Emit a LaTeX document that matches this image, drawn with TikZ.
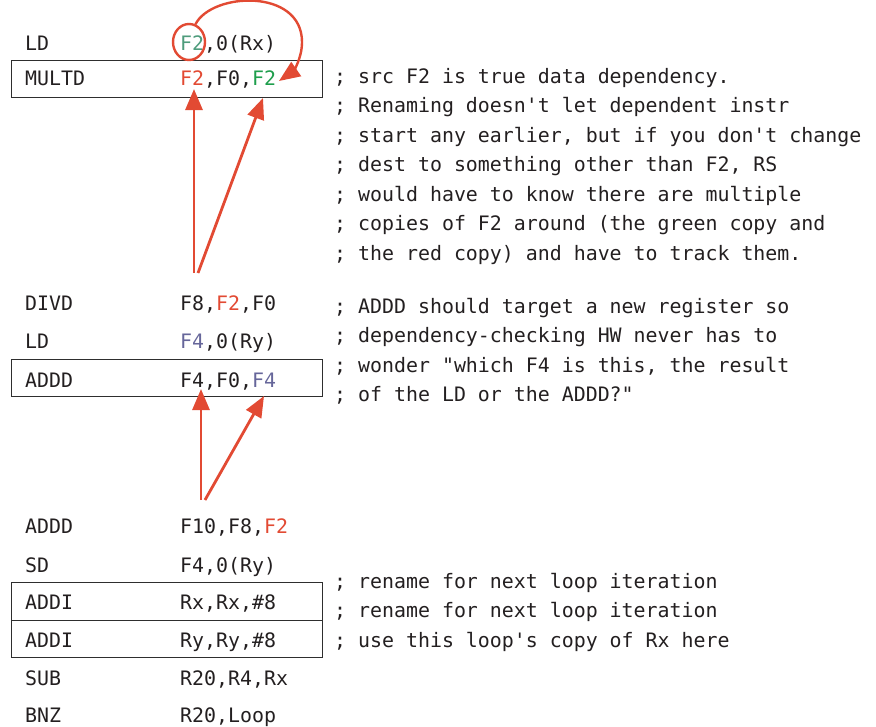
\documentclass[tikz,border=0pt]{standalone}
\usepackage{fontspec}
\setmainfont{DejaVu Sans Mono}[Ligatures=TeXOff]
\usetikzlibrary{arrows.meta,shapes.geometric}

\definecolor{ink}{HTML}{231F20}
\definecolor{boxline}{HTML}{2E2E2E}
\definecolor{depred}{HTML}{E24A33}
\definecolor{srcgreen}{HTML}{4E9C7C}
\definecolor{dstgreen}{HTML}{1E9E4C}
\definecolor{regviolet}{HTML}{66669A}

\tikzset{
  code/.style={anchor=base west, inner sep=0pt, text=ink,
               font=\fontsize{19.9}{24}\selectfont},
  instrbox/.style={draw=boxline, line width=1.2pt, anchor=north west,
                   minimum width=310.5pt, minimum height=37.5pt, inner sep=0pt},
  dep/.style={draw=depred, line width=2.8pt,
              -{Triangle[length=21pt,width=17pt]}},
  regmark/.style={draw=depred, line width=2.4pt, ellipse, inner sep=0pt,
                  minimum width=32pt, minimum height=36pt},
}
\newcommand\rr[1]{\textcolor{depred}{#1}}
\newcommand\rg[1]{\textcolor{srcgreen}{#1}}
\newcommand\rd[1]{\textcolor{dstgreen}{#1}}
\newcommand\rv[1]{\textcolor{regviolet}{#1}}

\begin{document}
\begin{tikzpicture}[x=1pt,y=-1pt]
  \useasboundingbox (0,0) rectangle (876,726);

  % boxed instructions
  \node[instrbox] (box-mult) at (11,59.5) {};
  \node[instrbox] (box-add)  at (11,358.5) {};
  \node[instrbox] (box-addx) at (11,582) {};
  \node[instrbox] (box-addy) at (11,619.5) {};

  % opcodes
  \node[code] (op1)  at (25,50)  {LD};
  \node[code] (op2)  at (25,85)  {MULTD};
  \node[code] (op3)  at (25,310) {DIVD};
  \node[code] (op4)  at (25,348) {LD};
  \node[code] (op5)  at (25,387) {ADDD};
  \node[code] (op6)  at (25,533) {ADDD};
  \node[code] (op7)  at (25,572) {SD};
  \node[code] (op8)  at (25,609) {ADDI};
  \node[code] (op9)  at (25,647) {ADDI};
  \node[code] (op10) at (25,685) {SUB};
  \node[code] (op11) at (25,722) {BNZ};

  % operands
  \node[code] (arg1)  at (180,50)  {\rg{F2},0(Rx)};
  \node[code] (arg2)  at (180,85)  {\rr{F2},F0,\rd{F2}};
  \node[code] (arg3)  at (180,310) {F8,\rr{F2},F0};
  \node[code] (arg4)  at (180,348) {\rv{F4},0(Ry)};
  \node[code] (arg5)  at (180,387) {F4,F0,\rv{F4}};
  \node[code] (arg6)  at (180,533) {F10,F8,\rr{F2}};
  \node[code] (arg7)  at (180,572) {F4,0(Ry)};
  \node[code] (arg8)  at (180,609) {Rx,Rx,\#8};
  \node[code] (arg9)  at (180,647) {Ry,Ry,\#8};
  \node[code] (arg10) at (180,685) {R20,R4,Rx};
  \node[code] (arg11) at (180,722) {R20,Loop};

  % comments
  \node[code] (c1)  at (334,83)    {; src F2 is true data dependency.};
  \node[code] (c2)  at (334,112.5) {; Renaming doesn't let dependent instr};
  \node[code] (c3)  at (334,142)   {; start any earlier, but if you don't change};
  \node[code] (c4)  at (334,171.5) {; dest to something other than F2, RS};
  \node[code] (c5)  at (334,201)   {; would have to know there are multiple};
  \node[code] (c6)  at (334,230.5) {; copies of F2 around (the green copy and};
  \node[code] (c7)  at (334,260)   {; the red copy) and have to track them.};

  \node[code] (c8)  at (334,313)   {; ADDD should target a new register so};
  \node[code] (c9)  at (334,342.5) {; dependency-checking HW never has to};
  \node[code] (c10) at (334,372)   {; wonder "which F4 is this, the result};
  \node[code] (c11) at (334,401.5) {; of the LD or the ADDD?"};

  \node[code] (c12) at (334,588)   {; rename for next loop iteration};
  \node[code] (c13) at (334,617.5) {; rename for next loop iteration};
  \node[code] (c14) at (334,647)   {; use this loop's copy of Rx here};

  % dependency arrows
  \node[regmark] (ldmark) at (189,42) {};
  \coordinate (mul-join) at (302,42);
  \coordinate (mul-dst)  at (279,81);
  \draw[dep, line width=2.4pt] (ldmark.70)
      .. controls (212,-8) and (302,-12) .. (mul-join)
      .. controls (302,60) and (292,72) .. (mul-dst);

  \coordinate (div-tail1) at (194,273);
  \coordinate (div-tail2) at (198,273);
  \coordinate (mul-src1)  at (194,89);
  \coordinate (mul-src2)  at (263,98);
  \draw[dep] (div-tail1) -- (mul-src1);
  \draw[dep] (div-tail2) -- (mul-src2);

  \coordinate (add-tail1) at (201,500);
  \coordinate (add-tail2) at (205,500);
  \coordinate (add-src1)  at (201,389);
  \coordinate (add-src2)  at (264,396);
  \draw[dep] (add-tail1) -- (add-src1);
  \draw[dep] (add-tail2) -- (add-src2);
\end{tikzpicture}
\end{document}
